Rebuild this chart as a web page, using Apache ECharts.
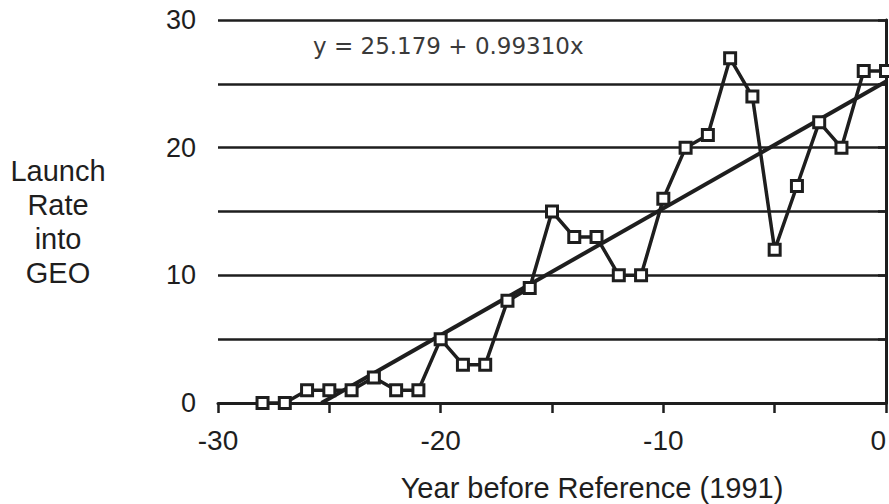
<!DOCTYPE html>
<html>
<head>
<meta charset="utf-8">
<script src="https://cdn.jsdelivr.net/npm/echarts@6/dist/echarts.min.js"></script>
<style>
html,body{margin:0;padding:0;background:#fff;overflow:hidden;}
#chart{width:889px;height:504px;display:block;}
</style>
</head>
<body>
<div id="chart"></div>
<script>
// Data
var years = [-28,-27,-26,-25,-24,-23,-22,-21,-20,-19,-18,-17,-16,-15,-14,-13,-12,-11,-10,-9,-8,-7,-6,-5,-4,-3,-2,-1,0];
var launches = [0,0,1,1,1,2,1,1,5,3,3,8,9,15,13,13,10,10,16,20,21,27,24,12,17,22,20,26,26];
var fitIntercept = 25.179;
var fitSlope = 0.99310;
var fitLabel = 'y = 25.179 + 0.99310x';
var xTicks = [-30,-20,-10,0];
var yTicks = [0,10,20,30];

var fitStart = -fitIntercept / fitSlope;
var fitLine = [[fitStart, fitIntercept + fitSlope*fitStart],[0, fitIntercept]];
var pts = years.map(function(x,i){return [x, launches[i]];});

var ink = '#1e1e1e';
var font = '"Liberation Sans", Arial, sans-serif';

var chart = echarts.init(document.getElementById('chart'), null, {renderer:'svg', width:889, height:504});
chart.setOption({
  animation:false,
  backgroundColor:'#fff',
  grid:{left:218, right:3, top:20, bottom:101, containLabel:false, outerBoundsMode:'none'},
  xAxis:{
    type:'value', min:-30, max:0, interval:5,
    axisLine:{show:true, onZero:false, lineStyle:{color:ink, width:3}},
    axisTick:{show:true, inside:false, length:10, lineStyle:{color:ink, width:2.5}},
    axisLabel:{
      margin:23, color:ink, fontFamily:font, fontSize:28, alignMaxLabel:'right',
      formatter:function(v){return xTicks.indexOf(v)>=0 ? String(v) : '';}
    },
    splitLine:{show:false}
  },
  yAxis:[{
    type:'value', min:0, max:30, interval:5,
    axisLine:{show:true, lineStyle:{color:ink, width:3}},
    axisTick:{show:true, length:8, lineStyle:{color:ink, width:2.5}},
    axisLabel:{
      margin:22, color:ink, fontFamily:font, fontSize:27,
      formatter:function(v){return yTicks.indexOf(v)>=0 ? String(v) : '';}
    },
    splitLine:{show:true, lineStyle:{color:ink, width:2.5}}
  },{
    type:'value', min:0, max:30, interval:5, position:'right',
    axisLine:{show:true, lineStyle:{color:ink, width:2.5}},
    axisTick:{show:false}, axisLabel:{show:false}, splitLine:{show:false}
  }],
  series:[{
    type:'line', data:fitLine, symbol:'none',
    lineStyle:{color:ink, width:4}, z:2
  },{
    type:'line', data:pts, symbol:'rect', symbolSize:11,
    lineStyle:{color:ink, width:3.5},
    itemStyle:{color:'#fff', borderColor:ink, borderWidth:3}, z:3
  }],
  graphic:[{
    type:'text', left:313, top:34,
    style:{text:fitLabel, fill:'#3a3a3a', font:'23px "DejaVu Sans", sans-serif'}
  },{
    type:'text', x:58, y:154,
    style:{text:'Launch\nRate\ninto\nGEO', fill:ink, font:'29px '+font, textAlign:'center', lineHeight:34}
  },{
    type:'text', x:592, y:473,
    style:{text:'Year before Reference (1991)', fill:ink, font:'29px '+font, textAlign:'center'}
  }]
});
</script>
</body>
</html>
